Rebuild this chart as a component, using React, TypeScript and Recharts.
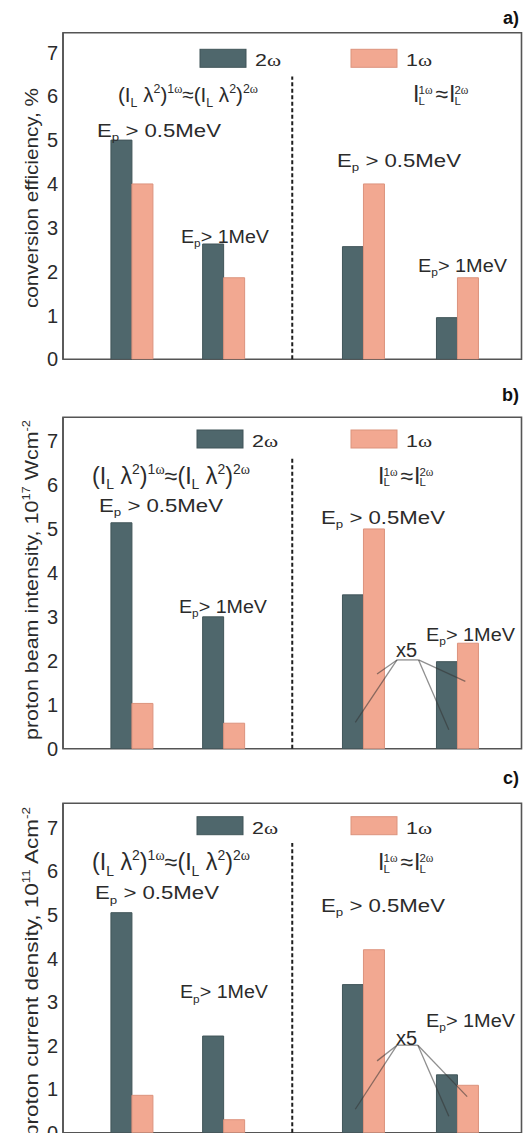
import React from "react";
import { BarChart, Bar, XAxis, YAxis, ReferenceLine, ReferenceArea } from "recharts";

const W = 523;
const FONT = "'Liberation Sans', Arial, Helvetica, sans-serif";
const SERIF = "'Liberation Serif', 'DejaVu Serif', serif";

const DARK = "#4f676c";
const DARK_EDGE = "#405559";
const LIGHT = "#f2a891";
const LIGHT_EDGE = "#dc937d";
const FRAME = "#555555";
const TICK = "#a3a3a3";
const INK = "#2b2b2b";

// bar pair positions on a 0..20 x scale, dashed divider between the two regimes
const GROUP_X = [3, 7, 13.1, 17.2];
const X_DOMAIN: [number, number] = [0, 20];
const DIVIDER_X = 10;
const Y_TICKS = [0, 1, 2, 3, 4, 5, 6, 7];

// a) conversion efficiency, %
const EFF_2W = [5.0, 2.63, 2.57, 0.95];
const EFF_1W = [4.0, 1.86, 4.0, 1.86];
// b) proton beam intensity, 1e17 W/cm2
const BEAM_2W = [5.14, 3.0, 3.5, 1.98];
const BEAM_1W = [1.03, 0.58, 5.0, 2.4];
// c) proton current density, 1e11 A/cm2
const CURR_2W = [5.05, 2.22, 3.4, 1.33];
const CURR_1W = [0.86, 0.3, 4.2, 1.09];

// "x5" leader lines in axis units: two feet on the left pair, two corners of the cap, two feet on the right pair
const BEAM_X5: [number, number][] = [[12.75, 0.6], [13.7, 1.7], [14.57, 2.02], [15.51, 2.02], [16.83, 0.43], [17.55, 1.53]];
const CURR_X5: [number, number][] = [[12.75, 0.54], [13.7, 1.65], [14.57, 2.01], [15.48, 2.01], [16.83, 0.38], [17.63, 0.83]];
const X5_LINKS: [number, number][] = [[0, 2], [1, 2], [2, 3], [3, 4], [3, 5]];

type Seg = [string, ("n" | "sub" | "sup")?];

const LABEL_A: Seg[] = [["conversion efficiency, %"]];
const LABEL_B: Seg[] = [["proton beam intensity, 10"], ["17", "sup"], [" Wcm"], ["-2", "sup"]];
const LABEL_C: Seg[] = [["proton current density, 10"], ["11", "sup"], [" Acm"], ["-2", "sup"]];

const EQ_LEFT: Seg[] = [
  ["(I"], ["L", "sub"], [" λ"], ["2", "sup"], [")"], ["1ω", "sup"],
  ["≈(I"], ["L", "sub"], [" λ"], ["2", "sup"], [")"], ["2ω", "sup"],
];
const EP_05: Seg[] = [["E"], ["p", "sub"], [" > 0.5MeV"]];
const EP_1: Seg[] = [["E"], ["p", "sub"], ["> 1MeV"]];

function Rich({ segs, size, ...rest }: { segs: Seg[]; size: number } & React.SVGProps<SVGTextElement>) {
  let shift = 0;
  const out: React.ReactNode[] = [];
  segs.forEach(([t, kind = "n"], i) => {
    const target = kind === "sup" ? -0.42 * size : kind === "sub" ? 0.24 * size : 0;
    let dy = target - shift;
    shift = target;
    const fs = kind === "n" ? size : size * 0.6;
    t.split(/(ω)/).filter(Boolean).forEach((part, j) => {
      out.push(
        <tspan key={`${i}-${j}`} dy={dy !== 0 ? dy : undefined} fontSize={fs}
          fontFamily={part === "ω" ? SERIF : undefined}>{part}</tspan>
      );
      dy = 0;
    });
  });
  return <text fontSize={size} fill={INK} fontFamily={FONT} {...rest}>{out}</text>;
}

// I_L with stacked 1ω / L scripts, then ≈, then the 2ω one
function EqRight({ x, y, s }: { x: number; y: number; s: number }) {
  const small = s * 0.5;
  const script = (dx: number, top: string) => (
    <>
      <text x={x + dx} y={y - 0.33 * s} fontSize={small} fill={INK} fontFamily={FONT}>
        {top[0]}<tspan fontFamily={SERIF}>{top.slice(1)}</tspan>
      </text>
      <text x={x + dx} y={y + 0.12 * s} fontSize={small} fill={INK} fontFamily={FONT}>L</text>
    </>
  );
  return (
    <g>
      <text x={x} y={y} fontSize={s} fill={INK} fontFamily={FONT}>I</text>
      {script(0.24 * s, "1ω")}
      <text x={x + 0.98 * s} y={y} fontSize={s} fill={INK} fontFamily={FONT}>≈</text>
      <text x={x + 1.56 * s} y={y} fontSize={s} fill={INK} fontFamily={FONT}>I</text>
      {script(1.8 * s, "2ω")}
    </g>
  );
}

interface PanelCfg {
  tag: string; tagY: number;
  top: number; height: number; mTop: number; mBottom: number;
  yMax: number; dashTop: number;
  w2: number[]; w1: number[];
  x5?: [number, number][]; x5At?: [number, number];
  yLabel: Seg[]; yLabelLen: number; yLabelMid: number;
  legendY: number; legendX: [number, number];
  eqL: [number, number, number, number]; // x, baseline, size, length
  eqR: [number, number, number];
  l05: [number, number]; l1: [number, number]; r05: [number, number]; r1: [number, number];
}

const PANELS: PanelCfg[] = [
  {
    tag: "a)", tagY: 24, top: 0, height: 372, mTop: 32.7, mBottom: 12.7, yMax: 7.45, dashTop: 6.45,
    w2: EFF_2W, w1: EFF_1W,
    yLabel: LABEL_A, yLabelLen: 220, yLabelMid: 198,
    legendY: 49.3, legendX: [200, 351],
    eqL: [118, 102, 21, 140], eqR: [413, 102, 23],
    l05: [97, 137], l1: [181, 243], r05: [337, 167], r1: [418, 272],
  },
  {
    tag: "b)", tagY: 21, top: 380, height: 382, mTop: 37.3, mBottom: 13.3, yMax: 7.54, dashTop: 6.64,
    w2: BEAM_2W, w1: BEAM_1W, x5: BEAM_X5, x5At: [396, 277.3],
    yLabel: LABEL_B, yLabelLen: 320, yLabelMid: 200,
    legendY: 50, legendX: [197, 351],
    eqL: [92, 103.5, 23, 158], eqR: [378, 103.5, 23],
    l05: [99, 131.7], l1: [179, 232.7], r05: [321, 144], r1: [426, 260.7],
  },
  {
    tag: "c)", tagY: 18, top: 766, height: 382, mTop: 37.3, mBottom: 15.2, yMax: 7.56, dashTop: 6.65,
    w2: CURR_2W, w1: CURR_1W, x5: CURR_X5, x5At: [396, 279],
    yLabel: LABEL_C, yLabelLen: 330, yLabelMid: 206,
    legendY: 50.7, legendX: [197, 351],
    eqL: [92, 104, 23, 158], eqR: [378, 104, 23],
    l05: [95, 133.3], l1: [180, 232.3], r05: [321, 145.7], r1: [426, 260.7],
  },
];

function Key({ x, y, fill, stroke, label }: { x: number; y: number; fill: string; stroke: string; label: string }) {
  return (
    <g>
      <rect x={x} y={y} width={46} height={18} fill={fill} stroke={stroke} strokeWidth={1} />
      <Rich x={x + 55} y={y + 17} size={17} segs={[[label]]} textLength={26} lengthAdjust="spacingAndGlyphs" />
    </g>
  );
}

function Panel({ cfg }: { cfg: PanelCfg }) {
  const rows = GROUP_X.map((x, i) => ({ x, w2: cfg.w2[i], w1: cfg.w1[i] }));
  const yDomain: [number, number] = [0, cfg.yMax];
  const pts = cfg.x5;
  return (
    <div style={{ position: "absolute", left: 0, top: cfg.top, width: W, height: cfg.height }}>
      <BarChart width={W} height={cfg.height} data={rows} barGap={0}
        margin={{ top: cfg.mTop, right: 1.5, bottom: cfg.mBottom, left: 0 }}>
        <XAxis dataKey="x" type="number" domain={X_DOMAIN} allowDataOverflow height={0}
          tick={false} tickLine={false} axisLine={{ stroke: FRAME, strokeWidth: 1.6 }} />
        <YAxis domain={yDomain} ticks={Y_TICKS} interval={0} allowDataOverflow width={63} tickSize={0} tickMargin={5}
          tickLine={false} axisLine={{ stroke: FRAME, strokeWidth: 1.6 }}
          tick={{ fontSize: 20, fill: INK, fontFamily: FONT }} />
        <YAxis yAxisId="in" domain={yDomain} ticks={Y_TICKS} interval={0} allowDataOverflow mirror width={0} tickSize={12}
          tick={false} axisLine={false} tickLine={{ stroke: TICK, strokeWidth: 1.5 }} />
        <YAxis yAxisId="r" orientation="right" domain={yDomain} ticks={Y_TICKS} interval={0} allowDataOverflow mirror width={0}
          tickSize={11} tick={false} axisLine={{ stroke: FRAME, strokeWidth: 1.6 }}
          tickLine={{ stroke: TICK, strokeWidth: 1.5 }} />
        <ReferenceArea x1={X_DOMAIN[0]} x2={X_DOMAIN[1]} y1={0} y2={cfg.yMax}
          fill="none" stroke={FRAME} strokeWidth={1.6} />
        <Bar dataKey="w2" barSize={21} fill={DARK} stroke={DARK_EDGE} strokeWidth={1} isAnimationActive={false} />
        <Bar dataKey="w1" barSize={21} fill={LIGHT} stroke={LIGHT_EDGE} strokeWidth={1} isAnimationActive={false} />
        <ReferenceLine segment={[{ x: DIVIDER_X, y: 0 }, { x: DIVIDER_X, y: cfg.dashTop }]}
          stroke="#1e1e1e" strokeWidth={2} strokeDasharray="4 2.5" />
        {pts && X5_LINKS.map(([a, b], i) => (
          <ReferenceLine key={i}
            segment={[{ x: pts[a][0], y: pts[a][1] }, { x: pts[b][0], y: pts[b][1] }]}
            stroke="#333" strokeOpacity={0.55} strokeWidth={1.3} />
        ))}
      </BarChart>
      <svg width={W} height={cfg.height} style={{ position: "absolute", left: 0, top: 0, pointerEvents: "none" }}>
        <text x={519} y={cfg.tagY} textAnchor="end" fontSize={18} fontWeight="bold" fill="#111" fontFamily={FONT}>{cfg.tag}</text>
        <Rich x={38} y={cfg.yLabelMid} size={19} segs={cfg.yLabel} textAnchor="middle"
          transform={`rotate(-90 38 ${cfg.yLabelMid})`} textLength={cfg.yLabelLen} lengthAdjust="spacingAndGlyphs" />
        <Key x={cfg.legendX[0]} y={cfg.legendY} fill={DARK} stroke={DARK_EDGE} label="2ω" />
        <Key x={cfg.legendX[1]} y={cfg.legendY} fill={LIGHT} stroke={LIGHT_EDGE} label="1ω" />
        <Rich x={cfg.eqL[0]} y={cfg.eqL[1]} size={cfg.eqL[2]} segs={EQ_LEFT}
          textLength={cfg.eqL[3]} lengthAdjust="spacingAndGlyphs" />
        <EqRight x={cfg.eqR[0]} y={cfg.eqR[1]} s={cfg.eqR[2]} />
        <Rich x={cfg.l05[0]} y={cfg.l05[1]} size={18} segs={EP_05} textLength={124} lengthAdjust="spacingAndGlyphs" />
        <Rich x={cfg.r05[0]} y={cfg.r05[1]} size={18} segs={EP_05} textLength={124} lengthAdjust="spacingAndGlyphs" />
        <Rich x={cfg.l1[0]} y={cfg.l1[1]} size={18} segs={EP_1} textLength={88} lengthAdjust="spacingAndGlyphs" />
        <Rich x={cfg.r1[0]} y={cfg.r1[1]} size={18} segs={EP_1} textLength={89} lengthAdjust="spacingAndGlyphs" />
        {cfg.x5At && (
          <text x={cfg.x5At[0]} y={cfg.x5At[1]} fontSize={20} fill={INK} fontFamily={FONT}>x5</text>
        )}
      </svg>
    </div>
  );
}

export default function App() {
  return (
    <div style={{ position: "absolute", left: 0, top: 0, width: W, height: 1133, overflow: "hidden", background: "#fff", fontFamily: FONT }}>
      {PANELS.map((p) => <Panel key={p.tag} cfg={p} />)}
    </div>
  );
}
